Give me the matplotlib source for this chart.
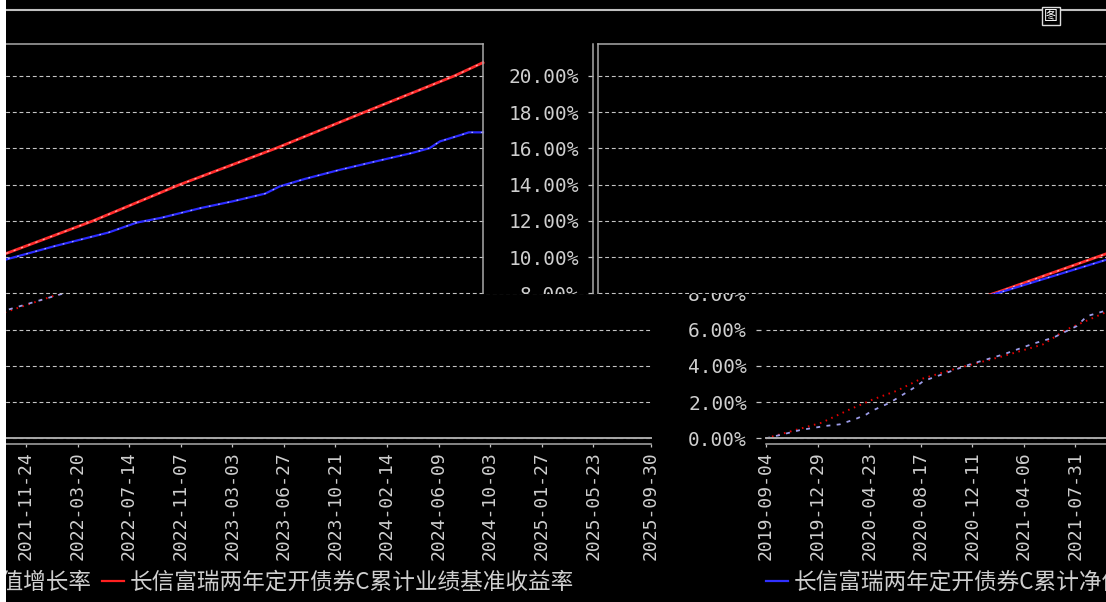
import numpy as np
import matplotlib
matplotlib.use("Agg")
import matplotlib.pyplot as plt
from matplotlib.lines import Line2D
from matplotlib.patches import Rectangle
from matplotlib.transforms import Bbox, TransformedBbox

# fund cumulative NAV growth (%)
nav_dates = ["2019-09-04", "2019-10-12", "2019-11-19", "2020-01-15", "2020-02-17",
             "2020-03-22", "2020-04-17", "2020-04-28", "2020-06-09", "2020-08-08",
             "2020-08-23", "2020-09-22", "2020-12-06", "2021-02-19", "2021-04-27",
             "2021-06-11", "2021-08-03", "2021-08-26", "2021-11-12", "2022-02-27",
             "2022-10-28", "2023-02-09", "2023-06-10", "2023-08-13", "2023-10-08",
             "2024-01-05", "2024-03-17", "2024-05-28", "2024-06-30", "2024-08-25",
             "2024-11-13", "2025-02-01", "2025-04-23", "2025-06-02", "2025-06-25",
             "2025-08-13", "2025-08-29", "2025-09-30"]
nav_growth = [0.00, 0.22, 0.45, 0.68, 0.77,
              1.05, 1.32, 1.50, 1.97, 2.88,
              3.16, 3.42, 4.08, 4.63, 5.22,
              5.55, 6.19, 6.74, 7.30, 8.07,
              9.90, 10.60, 11.35, 11.90, 12.17,
              12.71, 13.08, 13.50, 13.90, 14.31,
              14.82, 15.28, 15.74, 16.01, 16.38,
              16.75, 16.88, 16.88]

# benchmark cumulative return (%)
bench_dates = ["2019-09-04", "2020-01-07", "2020-03-11", "2020-05-02", "2020-06-24",
               "2020-08-15", "2020-10-29", "2021-02-18", "2021-05-19", "2021-07-11",
               "2021-10-05", "2022-02-27", "2022-10-28", "2023-05-07", "2023-11-18",
               "2024-06-21", "2025-01-07", "2025-07-28", "2025-09-30"]
bench_growth = [0.00, 0.86, 1.60, 2.15, 2.62,
                3.25, 3.80, 4.53, 5.18, 6.00,
                6.93, 8.13, 10.24, 12.00, 14.00,
                16.00, 18.00, 20.00, 20.73]

tick_dates = ["2019-09-04", "2019-12-29", "2020-04-23", "2020-08-17", "2020-12-11",
              "2021-04-06", "2021-07-31", "2021-11-24", "2022-03-20", "2022-07-14",
              "2022-11-07", "2023-03-03", "2023-06-27", "2023-10-21", "2024-02-14",
              "2024-06-09", "2024-10-03", "2025-01-27", "2025-05-23", "2025-09-30"]
y_ticks = [0, 2, 4, 6, 8, 10, 12, 14, 16, 18, 20]
y_labels = ["%.2f%%" % v for v in y_ticks]

nav_name = "长信富瑞两年定开债券C累计净值增长率"
bench_name = "长信富瑞两年定开债券C累计业绩基准收益率"

plt.rcParams["font.family"] = ["DejaVu Sans Mono", "Noto Sans CJK SC"]

W, H = 1106, 602
fig = plt.figure(figsize=(W / 100, H / 100), dpi=100, facecolor="black")

PLOT_W, PLOT_TOP, PLOT_BOT = 986, 44, 444.3
SPLIT = 294   # the screenshot is torn here
WRAP = 1101   # and wrapped round horizontally
GRID = "#c4c4c4"
EDGE = "#a9a9a9"
TXT = "#cfcfcf"


def draw_chart(left, upper):
    ax = fig.add_axes([left / W, 1 - PLOT_BOT / H, PLOT_W / W, (PLOT_BOT - PLOT_TOP) / H])
    ax.set_facecolor("none")
    xn = np.array(nav_dates, dtype="datetime64[D]")
    xb = np.array(bench_dates, dtype="datetime64[D]")
    xt = np.array(tick_dates, dtype="datetime64[D]")
    if upper:
        ax.plot(xb, bench_growth, color="#ff2b2b", lw=2.0)
        ax.plot(xb, bench_growth, color="#ffb4b4", lw=0.8, ls=(0, (2, 5)))
        ax.plot(xn, nav_growth, color="#2b2bff", lw=1.6)
        ax.plot(xn, nav_growth, color="#b8b8ff", lw=0.8, ls=(0, (1.5, 7)))
    else:
        ax.plot(xb, bench_growth, color="#e60000", lw=1.4, ls=(0, (0.8, 2.4)))
        ax.plot(xn, nav_growth, color="#9c9ce8", lw=1.3, ls=(0, (2.2, 3.5)))
    ax.set_xlim(xt[0], xt[-1])
    ax.set_ylim(-0.331, 21.755)
    ax.set_yticks(y_ticks, y_labels)
    ax.set_xticks(xt, tick_dates, rotation=90)
    ax.grid(axis="y", color=GRID, lw=0.8, ls=(0, (3.5, 2.5)))
    ax.axhline(0, color=EDGE, lw=1.4)
    ax.tick_params(axis="y", length=3.6, width=0.9, color=GRID, pad=6.5,
                   labelsize=14, labelcolor=TXT)
    ax.tick_params(axis="x", length=2.4, width=0.9, color=GRID, pad=2.5,
                   labelsize=13, labelcolor=TXT)
    for s in ax.spines.values():
        s.set_color(EDGE)
        s.set_linewidth(1.1)
    ax.spines["left"].set_position(("outward", 3.6))
    ax.spines["left"].set_visible(upper)
    ax.spines["right"].set_visible(upper)
    if upper:
        ax.axvline(xt[0], color=EDGE, lw=1.1, clip_on=False)
    handles = [Line2D([], [], color="#3030ff", lw=1.6), Line2D([], [], color="#ff2020", lw=1.6)]
    ax.legend(handles, [nav_name, bench_name], loc="center left", bbox_to_anchor=(0, -0.344),
              ncol=2, frameon=False, borderpad=0, borderaxespad=0, handlelength=0.97,
              handletextpad=0.27, columnspacing=0.44, labelcolor=TXT,
              prop={"family": ["Noto Sans CJK SC", "DejaVu Sans"], "size": 16.3})
    return ax


tiles = [(598, True), (598 - WRAP, True), (766, False), (766 - WRAP, False)]
charts = [(draw_chart(l, u), u) for l, u in tiles]

fig.canvas.draw()
for ax, upper in charts:
    y0, y1 = (0, SPLIT) if upper else (SPLIT, H)
    box = TransformedBbox(Bbox.from_extents(0, 1 - y1 / H, 1, 1 - y0 / H), fig.transFigure)
    for art in ax.findobj():
        if art is not ax:
            art.set_clip_box(box)
            art.set_clip_on(True)

# window chrome of the screenshot
fig.patches.append(Rectangle((0, 0), 6 / W, 1, transform=fig.transFigure,
                             facecolor="white", edgecolor="none", zorder=10))
fig.add_artist(Line2D([6 / W, 1], [1 - 10 / H, 1 - 10 / H], transform=fig.transFigure,
                      color="#c0c0c0", lw=1.5, zorder=10))
fig.text(1051 / W, 1 - 16 / H, "图", color="white", fontsize=10, ha="center", va="center",
         family=["Noto Sans CJK SC", "DejaVu Sans"], zorder=11,
         bbox=dict(facecolor="black", edgecolor="#dddddd", pad=1.5))

fig.savefig("out.png", dpi=100, facecolor="black")
